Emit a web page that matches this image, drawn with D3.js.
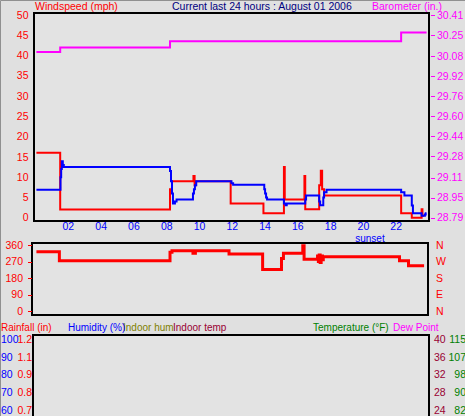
<!DOCTYPE html>
<html>
<head>
<meta charset="utf-8">
<script src="https://cdn.jsdelivr.net/npm/d3@7"></script>
<style>
  body { margin: 0; background: #e0e0e0; }
  svg { display: block; font-family: "Liberation Sans", Arial, sans-serif; font-size: 10.5px; }
</style>
</head>
<body>
<div id="chart"></div>
<script>
// Data: [hour, value] pairs, drawn as steps
const windSpeed = [
  [0.05, 16], [1.5, 2], [8.2, 7], [8.32, 9], [9.63, 10.3], [9.7, 8], [9.78, 9],
  [11.9, 3.5], [13.9, 1.1], [15.15, 12.5], [15.2, 4.5], [16.4, 10.3], [16.45, 2.1],
  [17.3, 8], [17.4, 11.6], [17.48, 7], [17.6, 5.5], [22.3, 1.1], [22.95, 0],
  [23.55, 2.1], [23.6, 0.5], [23.7, 0.5]
];
const windGust = [
  [0.05, 6.9], [1.52, 10], [1.56, 12], [1.6, 13.9], [1.66, 13], [1.72, 12.5],
  [8.2, 11.5], [8.26, 9], [8.32, 6], [8.38, 3.5], [8.5, 4], [8.6, 4.5],
  [9.6, 6], [9.66, 7], [9.72, 8], [9.8, 9], [11.95, 8.5], [12.05, 8.1],
  [13.95, 7], [14.0, 6], [14.06, 5], [14.12, 4.5], [15.15, 3.5], [15.25, 3.1], [15.32, 3.5],
  [16.45, 4.5], [16.5, 5.5], [17.3, 4], [17.36, 3.1], [17.5, 3.1], [17.55, 5],
  [17.6, 6.3], [17.75, 6.9], [22.3, 6.3], [22.5, 5.5], [22.95, 3], [23.02, 1.1],
  [23.55, 0.5], [23.75, 0.8], [23.8, 1.1], [23.85, 1.1]
];
const barometer = [
  [0.05, 30.115], [1.5, 30.15], [8.2, 30.20], [22.3, 30.27], [23.85, 30.27]
];
const windDir = [
  [0.05, 323], [1.45, 274], [8.2, 320], [8.32, 329], [9.6, 315], [9.75, 329],
  [11.8, 311], [13.85, 227], [15.0, 287], [15.12, 315], [16.3, 356], [16.38, 282],
  [17.2, 300], [17.25, 270], [17.3, 305], [17.36, 265], [17.42, 300], [17.5, 280],
  [17.55, 296], [22.2, 274], [22.75, 247], [23.7, 247]
];

// Tick labels
const speedTicks = d3.range(0, 51, 5);
const baroTicks = [28.79, 28.95, 29.11, 29.28, 29.44, 29.60, 29.76, 29.92, 30.08, 30.25, 30.41];
const hourTicks = ["02", "04", "06", "08", "10", "12", "14", "16", "18", "20", "22"];
const dirTicks = [0, 90, 180, 270, 360];
const dirLabels = ["N", "E", "S", "W", "N"];
const humTicks = ["100", "90", "80", "70", "60"];
const rainTicks = ["1.2", "1.1", "0.9", "0.8", "0.7"];
const inTempTicks = ["40", "36", "32", "28", "24"];
const tempTicks = ["115", "107", "98", "90", "82"];

const width = 465, height = 416;

const svg = d3.select("#chart").append("svg")
  .attr("width", width)
  .attr("height", height);

svg.append("rect").attr("width", width).attr("height", height).attr("fill", "#e0e0e0");
// thin outer edge on top and left
svg.append("path").attr("d", "M0.5,416V0.5H465").attr("fill", "none").attr("stroke", "#909090");

// Scales
const x = d3.scaleLinear().domain([0, 24]).range([35.6, 429]);
const ySpeed = d3.scaleLinear().domain([0, 50]).range([217.7, 15]);
const yBaro = d3.scaleLinear().domain([28.79, 30.41]).range([217.7, 15]);
const yDir = d3.scaleLinear().domain([0, 360]).range([311, 245]);
const yLow = d3.scaleLinear().domain([0, 10]).range([518, 339]);

function text(sel, str, px, py, color, anchor) {
  return sel.append("text").attr("x", px).attr("y", py)
    .attr("fill", color).attr("text-anchor", anchor || "start").text(str);
}

// ---- Top panel: windspeed + barometer ----
text(svg, "Windspeed (mph)", 35, 9.5, "#ff0000");
text(svg, "Current last 24 hours : August 01 2006", 172, 9.5, "#000080");
text(svg, "Barometer (in.)", 372, 9.5, "#ff00ff");

svg.append("rect").attr("x", 34).attr("y", 13).attr("width", 395).attr("height", 208)
  .attr("fill", "#e3e3e3").attr("stroke", "#000").attr("stroke-width", 2);

svg.append("g").selectAll("text").data(speedTicks).join("text")
  .attr("x", 28.5).attr("y", d => ySpeed(d)).attr("dy", "0.35em")
  .attr("text-anchor", "end").attr("fill", "#ff0000").text(d => d);

const baroAxis = svg.append("g");
baroAxis.selectAll("line").data(baroTicks).join("line")
  .attr("x1", 431).attr("x2", 435).attr("y1", d => Math.round(yBaro(d)) + 0.5).attr("y2", d => Math.round(yBaro(d)) + 0.5)
  .attr("stroke", "#ff00ff");
baroAxis.selectAll("text").data(baroTicks).join("text")
  .attr("x", 437).attr("y", d => yBaro(d)).attr("dy", "0.35em")
  .attr("fill", "#ff00ff").text(d => d.toFixed(2));

svg.append("g").selectAll("text").data(hourTicks).join("text")
  .attr("x", d => x(+d)).attr("y", 230).attr("text-anchor", "middle")
  .attr("fill", "#0000ff").text(d => d);
text(svg, "sunset", x(20.4), 241.5, "#0000ff", "middle").attr("font-size", "10px");

const speedLine = d3.line().x(d => x(d[0])).y(d => ySpeed(d[1])).curve(d3.curveStepAfter);
const baroLine = d3.line().x(d => x(d[0])).y(d => yBaro(d[1])).curve(d3.curveStepAfter);

svg.append("path").attr("d", baroLine(barometer)).attr("fill", "none")
  .attr("stroke", "#ff00ff").attr("stroke-width", 2);
svg.append("path").attr("d", speedLine(windSpeed)).attr("fill", "none")
  .attr("stroke", "#ff0000").attr("stroke-width", 2);
svg.append("path").attr("d", speedLine(windGust)).attr("fill", "none")
  .attr("stroke", "#0000ff").attr("stroke-width", 2);

// ---- Middle panel: wind direction ----
svg.append("rect").attr("x", 32).attr("y", 243).attr("width", 396).attr("height", 72)
  .attr("fill", "#e3e3e3").attr("stroke", "#000").attr("stroke-width", 2);

const dirAxis = svg.append("g");
dirAxis.selectAll("text").data(dirTicks).join("text")
  .attr("x", 23).attr("y", d => yDir(d)).attr("dy", "0.35em")
  .attr("text-anchor", "end").attr("fill", "#ff0000").text(d => d);
dirAxis.selectAll("line").data(dirTicks).join("line")
  .attr("x1", 28).attr("x2", 32).attr("y1", d => Math.round(yDir(d)) + 0.5).attr("y2", d => Math.round(yDir(d)) + 0.5)
  .attr("stroke", "#ff0000");
svg.append("g").selectAll("text").data(dirLabels).join("text")
  .attr("x", 436).attr("y", (d, i) => yDir(dirTicks[i])).attr("dy", "0.35em")
  .attr("fill", "#ff0000").text(d => d);

const dirLine = d3.line().x(d => x(d[0])).y(d => yDir(d[1])).curve(d3.curveStepAfter);
svg.append("path").attr("d", dirLine(windDir)).attr("fill", "none")
  .attr("stroke", "#ff0000").attr("stroke-width", 3);

// ---- Bottom panel: rain / humidity / temperature ----
const legend = svg.append("g").attr("font-size", "10px");
text(legend, "Rainfall (in)", 1, 331, "#ff0000");
text(legend, "Indoor hum", 123, 331, "#808000");
text(legend, "Humidity (%)", 68, 331, "#0000ff");
text(legend, "Indoor temp", 173, 331, "#990033");
text(legend, "Temperature (°F)", 313, 331, "#008000");
text(legend, "Dew Point", 393, 331, "#ff00ff");

svg.append("rect").attr("x", 33).attr("y", 335).attr("width", 396).attr("height", 190)
  .attr("fill", "#e3e3e3").attr("stroke", "#000").attr("stroke-width", 2);

const lowAxis = svg.append("g");
lowAxis.selectAll(".hum").data(humTicks).join("text").attr("class", "hum")
  .attr("x", 1).attr("y", (d, i) => yLow(10 - i)).attr("dy", "0.35em")
  .attr("fill", "#0000ff").text(d => d);
lowAxis.selectAll(".rain").data(rainTicks).join("text").attr("class", "rain")
  .attr("x", 32).attr("y", (d, i) => yLow(10 - i)).attr("dy", "0.35em")
  .attr("text-anchor", "end").attr("fill", "#ff0000").text(d => d);
lowAxis.selectAll(".intemp").data(inTempTicks).join("text").attr("class", "intemp")
  .attr("x", 434).attr("y", (d, i) => yLow(10 - i)).attr("dy", "0.35em")
  .attr("fill", "#990033").text(d => d);
lowAxis.selectAll(".temp").data(tempTicks).join("text").attr("class", "temp")
  .attr("x", 466).attr("y", (d, i) => yLow(10 - i)).attr("dy", "0.35em")
  .attr("text-anchor", "end").attr("fill", "#008000").text(d => d);
</script>
</body>
</html>
